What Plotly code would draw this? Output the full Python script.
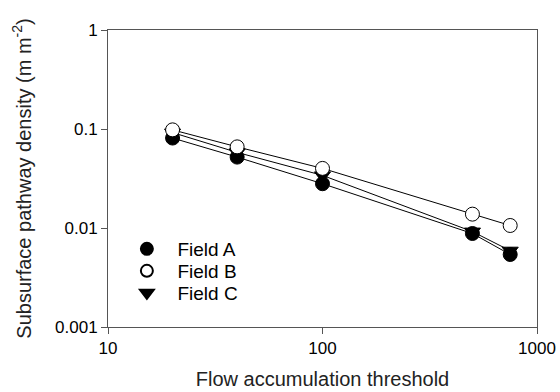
import plotly.graph_objects as go

thresholds = [20, 40, 100, 500, 750]
field_a = [0.081, 0.052, 0.028, 0.0088, 0.0054]
field_b = [0.098, 0.066, 0.040, 0.0138, 0.0106]
field_c = [0.092, 0.058, 0.034, 0.0092, 0.0059]

x_ticks = [10, 100, 1000]
x_tick_labels = ["10", "100", "1000"]
y_ticks = [0.001, 0.01, 0.1, 1]
y_tick_labels = ["0.001", "0.01", "0.1", "1"]

FONT = "Arial, Liberation Sans, sans-serif"
NB = "\u00a0\u00a0"

fig = go.Figure()

series = [
    ("Field A", field_a, "circle", "black", "legend"),
    ("Field C", field_c, "triangle-down", "black", "legend3"),
    ("Field B", field_b, "circle", "white", "legend2"),
]

for name, ys, symbol, fill, lg in series:
    fig.add_trace(go.Scatter(
        x=thresholds, y=ys, name=name, mode="lines+markers", showlegend=False,
        line=dict(color="black", width=1),
        marker=dict(symbol=symbol, size=14, color=fill,
                    line=dict(color="black", width=1)),
    ))

for name, ys, symbol, fill, lg in series:
    fig.add_trace(go.Scatter(
        x=[None], y=[None], name=NB + name, mode="markers", legend=lg,
        marker=dict(symbol=symbol, size=14, color=fill,
                    line=dict(color="black", width=1)),
    ))

axis_common = dict(
    showgrid=False, zeroline=False, showline=True, linecolor="#555555",
    linewidth=1, mirror=True, ticks="outside", ticklen=6, tickcolor="#555555",
    automargin=False,
    tickfont=dict(family=FONT, size=17, color="black"),
)

fig.update_xaxes(type="log", range=[1, 3], tickvals=x_ticks, ticktext=x_tick_labels,
                 title=dict(text="Flow accumulation threshold", standoff=14,
                            font=dict(family=FONT, size=20, color="#222")),
                 **axis_common)
fig.update_yaxes(type="log", range=[-3, 0], tickvals=y_ticks, ticktext=y_tick_labels,
                 title=dict(text="Subsurface pathway density (m m<sup>-2</sup>)", standoff=18,
                            font=dict(family=FONT, size=20, color="#222")),
                 **axis_common)

legend_common = dict(x=0.044, xanchor="left", yanchor="middle",
                     bgcolor="rgba(0,0,0,0)", itemsizing="constant",
                     font=dict(family=FONT, size=19, color="black"))

fig.update_layout(
    width=560, height=392,
    margin=dict(l=108, r=23, t=30, b=65),
    plot_bgcolor="white", paper_bgcolor="white",
    showlegend=True,
    legend=dict(y=0.2626, **legend_common),
    legend2=dict(y=0.1886, **legend_common),
    legend3=dict(y=0.1145, **legend_common),
)

fig.write_html("out.html", config={"displayModeBar": False},
               post_script="document.body.style.margin='0px';")
